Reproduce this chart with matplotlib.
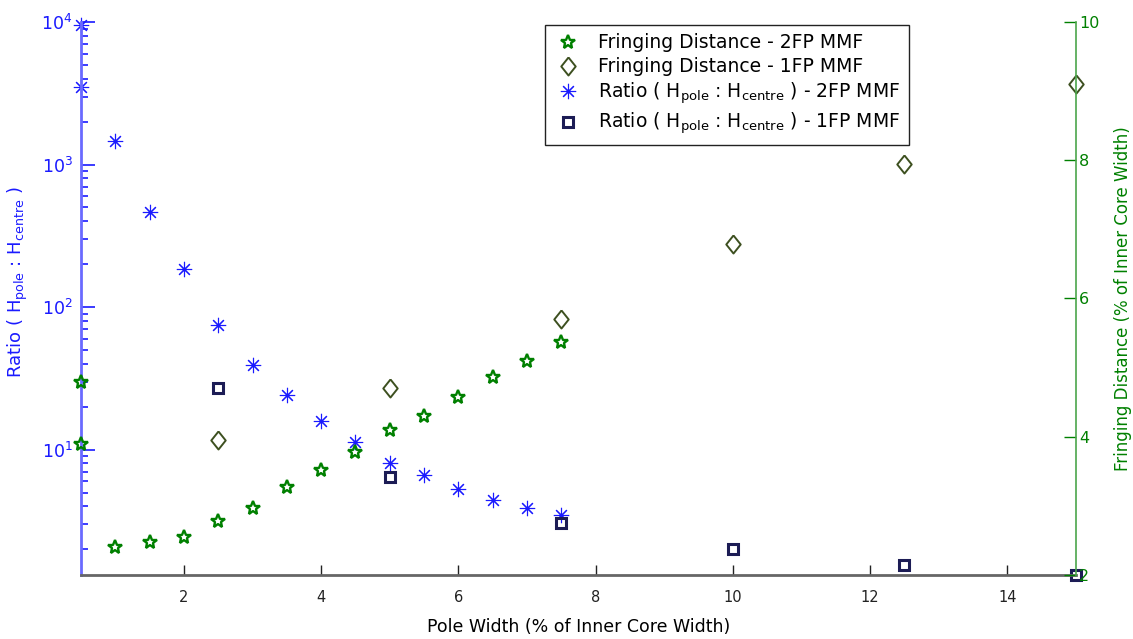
import numpy as np
import matplotlib
matplotlib.use('Agg')
import matplotlib.pyplot as plt

plt.rcParams['font.family'] = ['DejaVu Sans']
plt.rcParams['mathtext.default'] = 'regular'

# data
x_2fp = [0.5, 0.5, 1, 1.5, 2, 2.5, 3, 3.5, 4, 4.5, 5, 5.5, 6, 6.5, 7, 7.5]
ratio_2fp = [9500, 3500, 1460, 461, 184, 75.2, 39.4, 24.0, 15.8, 11.25, 8.06, 6.65, 5.3, 4.44, 3.89, 3.45]
fring_2fp = [4.79, 3.89, 2.40, 2.48, 2.55, 2.785, 2.965, 3.27, 3.52, 3.78, 4.10, 4.30, 4.58, 4.87, 5.09, 5.365]

x_1fp = [2.5, 5, 7.5, 10, 12.5, 15]
ratio_1fp = [27.1, 6.38, 3.08, 2.02, 1.56, 1.32]
fring_1fp = [3.95, 4.71, 5.71, 6.79, 7.94, 9.11]

blue = '#1a1aff'
green = '#008000'
olive = '#3d5020'
navy = '#1c1c55'

# wider diamond than the built-in 'd'
diamond = [(0, 1), (0.8, 0), (0, -1), (-0.8, 0), (0, 1)]

fig = plt.figure(figsize=(11.33, 6.39), dpi=100)
ax = fig.add_axes([0.0715, 0.1002, 0.8782, 0.8654])
ax2 = ax.twinx()

h3, = ax.plot(x_2fp, ratio_2fp, linestyle='none', marker=(8, 2, 0), markersize=11,
              markeredgewidth=0.8, color=blue, clip_on=False)
h4, = ax.plot(x_1fp, ratio_1fp, linestyle='none', marker='s', markersize=7,
              markeredgewidth=2.2, markerfacecolor='none', color=navy, clip_on=False)
h1, = ax2.plot(x_2fp, fring_2fp, linestyle='none', marker='*', markersize=10,
               markeredgewidth=1.7, markerfacecolor='none', color=green, clip_on=False)
h2, = ax2.plot(x_1fp, fring_1fp, linestyle='none', marker=diamond, markersize=13,
               markeredgewidth=1.4, markerfacecolor='none', color=olive, clip_on=False)

ax.set_yscale('log')
ax.set_xlim(0.5, 15)
ax.set_ylim(1.32, 1e4)
ax2.set_ylim(2, 10)

ax.set_xticks([2, 4, 6, 8, 10, 12, 14])
ax.tick_params(axis='x', direction='in', length=7, width=1, colors='#222222',
               labelsize=10.5, pad=11)
ax.tick_params(axis='y', which='major', direction='in', length=10, width=1.2,
               colors=blue, labelsize=12.5, pad=6)
ax.tick_params(axis='y', which='minor', direction='in', length=5, width=1.2, colors=blue)
ax2.set_yticks([2, 4, 6, 8, 10])
ax2.tick_params(axis='y', direction='in', length=9, width=1, colors=green,
                labelsize=11.5, pad=2)

for s in ['top', 'right']:
    ax.spines[s].set_visible(False)
for s in ['top', 'left', 'bottom']:
    ax2.spines[s].set_visible(False)
ax.spines['left'].set_color('#6a6aff')
ax.spines['left'].set_linewidth(2)
ax.spines['bottom'].set_color('#666666')
ax.spines['bottom'].set_linewidth(2)
ax2.spines['right'].set_color('#4ca64c')
ax2.spines['right'].set_linewidth(1.2)

ax.set_xlabel('Pole Width (% of Inner Core Width)', fontsize=12.5, labelpad=9)
ax.set_ylabel('Ratio ( H$_{pole}$ : H$_{centre}$ )', color=blue, fontsize=13)
ax.yaxis.set_label_coords(-0.051, 0.53)
ax2.set_ylabel('Fringing Distance (% of Inner Core Width)', color=green, fontsize=12)
ax2.yaxis.set_label_coords(1.038, 0.5)

leg = fig.legend([h1, h2, h3, h4],
                 ['Fringing Distance - 2FP MMF', 'Fringing Distance - 1FP MMF',
                  'Ratio ( H$_{pole}$ : H$_{centre}$ ) - 2FP MMF',
                  'Ratio ( H$_{pole}$ : H$_{centre}$ ) - 1FP MMF'],
                 loc='upper left', bbox_to_anchor=(545 / 1133, 1 - 25 / 639),
                 fancybox=False, edgecolor='#222222', framealpha=1, fontsize=13.5,
                 borderpad=0.45, labelspacing=0.25, handletextpad=0.9, borderaxespad=0,
                 handlelength=1.5)
leg.get_frame().set_linewidth(1)

fig.savefig('out.png', dpi=100)
